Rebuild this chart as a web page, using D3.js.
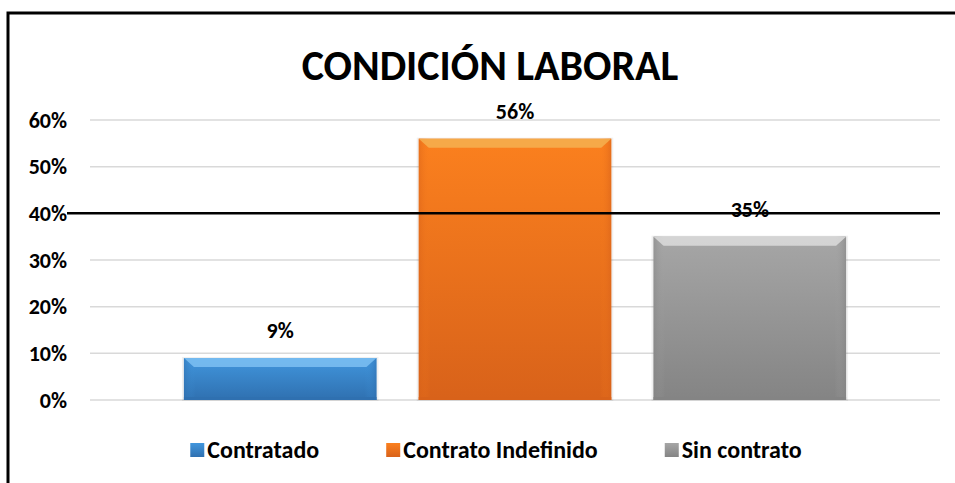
<!DOCTYPE html>
<html>
<head>
<meta charset="utf-8">
<script src="https://cdn.jsdelivr.net/npm/d3@7"></script>
<style>
  html, body { margin: 0; padding: 0; background: #fff; }
  svg { display: block; }
  text { font-family: Carlito, "Open Sans", "Liberation Sans", sans-serif; font-weight: bold; fill: #000; }
</style>
</head>
<body>
<svg id="chart" width="955" height="483"></svg>
<script>
// chart data
var title = 'CONDICIÓN LABORAL';
var categories = ['Contratado', 'Contrato Indefinido', 'Sin contrato'];
var values = [0.09, 0.56, 0.35];
var yTicks = [0, 0.1, 0.2, 0.3, 0.4, 0.5, 0.6];
var refLine = [0.4];

var colors = {
    'Contratado': ['#7cc0f2', '#4196dd', '#2f70b0'],
    'Contrato Indefinido': ['#f4b050', '#fb801e', '#d8621a'],
    'Sin contrato': ['#dcdcdc', '#a6a6a6', '#848484']
};

var svg = d3.select('#chart');
var margin = {left: 90, right: 15, top: 120, bottom: 83};
var W = 955, H = 483;

var x = d3.scaleBand()
    .domain(categories)
    .range([margin.left, W - margin.right])
    .paddingInner(0.18)
    .paddingOuter(0.4);

var y = d3.scaleLinear()
    .domain([0, 0.6])
    .range([H - margin.bottom, margin.top]);

var fmt = d3.format('.0%');

// gradients
var defs = svg.append('defs');
categories.forEach(function(c, i){
    var g = defs.append('linearGradient')
        .attr('id', 'grad' + i)
        .attr('x1', 0).attr('y1', 0).attr('x2', 0).attr('y2', 1);
    g.append('stop').attr('offset', '0%').attr('stop-color', colors[c][1]);
    g.append('stop').attr('offset', '100%').attr('stop-color', colors[c][2]);
    var s = defs.append('linearGradient')
        .attr('id', 'side' + i)
        .attr('x1', 0).attr('y1', 0).attr('x2', 1).attr('y2', 0);
    s.append('stop').attr('offset', '0%').attr('stop-color', colors[c][2]).attr('stop-opacity', 0.5);
    s.append('stop').attr('offset', '6%').attr('stop-color', colors[c][1]).attr('stop-opacity', 0);
    s.append('stop').attr('offset', '94%').attr('stop-color', colors[c][1]).attr('stop-opacity', 0);
    s.append('stop').attr('offset', '100%').attr('stop-color', colors[c][2]).attr('stop-opacity', 0.6);
});

// outer frame (left and top edges visible)
svg.append('path')
    .attr('d', 'M8,' + H + 'V13H' + W)
    .attr('fill', 'none')
    .attr('stroke', '#000')
    .attr('stroke-width', 3);

// title
svg.append('text')
    .attr('x', 490)
    .attr('y', 80)
    .attr('text-anchor', 'middle')
    .style('font-size', '42px')
    .text(title);

// gridlines
svg.append('g').selectAll('line')
    .data(yTicks)
    .enter().append('line')
    .attr('x1', margin.left)
    .attr('x2', W - margin.right)
    .attr('y1', function(d){ return y(d); })
    .attr('y2', function(d){ return y(d); })
    .attr('stroke', '#d9d9d9')
    .attr('stroke-width', 1.5);

// y axis labels
svg.append('g').selectAll('text')
    .data(yTicks)
    .enter().append('text')
    .attr('x', 67)
    .attr('y', function(d){ return y(d); })
    .attr('dy', '0.35em')
    .attr('text-anchor', 'end')
    .style('font-size', '22px')
    .text(function(d){ return fmt(d); });

// bars
var bars = svg.append('g').selectAll('g')
    .data(categories)
    .enter().append('g');

bars.append('rect')
    .attr('x', function(d){ return x(d) - 2; })
    .attr('y', function(d, i){ return y(values[i]) - 1; })
    .attr('width', x.bandwidth() + 4)
    .attr('height', function(d, i){ return y(0) - y(values[i]) + 2; })
    .attr('fill', '#000')
    .attr('opacity', 0.06);

bars.append('rect')
    .attr('x', function(d){ return x(d); })
    .attr('y', function(d, i){ return y(values[i]); })
    .attr('width', x.bandwidth())
    .attr('height', function(d, i){ return y(0) - y(values[i]); })
    .attr('fill', function(d, i){ return 'url(#grad' + i + ')'; });

bars.append('rect')
    .attr('x', function(d){ return x(d); })
    .attr('y', function(d, i){ return y(values[i]); })
    .attr('width', x.bandwidth())
    .attr('height', function(d, i){ return y(0) - y(values[i]); })
    .attr('fill', function(d, i){ return 'url(#side' + i + ')'; });

// top bevel
bars.append('path')
    .attr('d', function(d, i){
        var x0 = x(d), x1 = x(d) + x.bandwidth(), t = y(values[i]);
        return 'M' + x0 + ',' + t + 'H' + x1 + 'L' + (x1 - 10) + ',' + (t + 9) + 'H' + (x0 + 10) + 'Z';
    })
    .attr('fill', function(d){ return colors[d][0]; })
    .attr('opacity', 0.85);

// bottom edge
bars.append('rect')
    .attr('x', function(d){ return x(d); })
    .attr('y', y(0) - 3)
    .attr('width', x.bandwidth())
    .attr('height', 3)
    .attr('fill', function(d){ return colors[d][2]; });

// data labels
bars.append('text')
    .attr('x', function(d){ return x(d) + x.bandwidth() / 2; })
    .attr('y', function(d, i){ return y(values[i]) - 20; })
    .attr('text-anchor', 'middle')
    .style('font-size', '22px')
    .text(function(d, i){ return fmt(values[i]); });

// reference line at 40%
svg.append('g').selectAll('line')
    .data(refLine)
    .enter().append('line')
    .attr('x1', 67)
    .attr('x2', W - margin.right)
    .attr('y1', function(d){ return y(d); })
    .attr('y2', function(d){ return y(d); })
    .attr('stroke', '#000')
    .attr('stroke-width', 2.5);

// legend
var legend = svg.append('g');
var items = legend.selectAll('g')
    .data(categories)
    .enter().append('g');

items.append('rect')
    .attr('width', 14)
    .attr('height', 14)
    .attr('y', 443)
    .attr('fill', function(d, i){ return 'url(#grad' + i + ')'; });

items.append('text')
    .attr('x', 17)
    .attr('y', 458)
    .style('font-size', '24px')
    .text(function(d){ return d; });

var widths = [];
items.each(function(){
    widths.push(17 + d3.select(this).select('text').node().getComputedTextLength());
});
var gap = 67;
var total = d3.sum(widths) + gap * (widths.length - 1);
var pos = 496 - total / 2;
items.attr('transform', function(d, i){
    var p = pos;
    pos += widths[i] + gap;
    return 'translate(' + p + ',0)';
});
</script>
</body>
</html>
